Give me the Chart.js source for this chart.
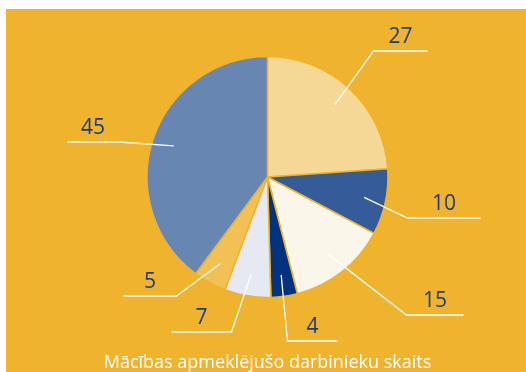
<!DOCTYPE html>
<html>
<head>
<meta charset="utf-8">
<script src="https://cdn.jsdelivr.net/npm/chart.js@4/dist/chart.umd.min.js"></script>
<style>
  html, body { margin: 0; padding: 0; background: #ffffff; }
  #box { position: relative; width: 526px; height: 372px; }
</style>
</head>
<body>
<div id="box"><canvas id="pie"></canvas></div>
<script>
// Dati
const categories = ['A', 'B', 'C', 'D', 'E', 'F', 'G'];
const values = [27, 10, 15, 4, 7, 5, 45];
const sliceColors = ['#F5D895', '#355C98', '#FBF6EA', '#03337F', '#E5E9F1', '#F2C156', '#6886B2'];
const titleText = 'Mācības apmeklējušo darbinieku skaits';

// izsaukuma līniju lūzuma punkti (attiecībā pret centru) un horizontālā posma garums
const leaders = [
    { ex: 106, ey: -126, len: 54 },
    { ex: 140, ey: 41, len: 73 },
    { ex: 139, ey: 138, len: 57 },
    { ex: 20, ey: 164, len: 50 },
    { ex: -36, ey: 155, len: -60 },
    { ex: -91, ey: 119, len: -53 },
    { ex: -149, ey: -35, len: -51 }
];

const ORANGE = '#EFB32E';

const backgroundPlugin = {
    id: 'orangeBox',
    beforeDraw(chart) {
        const ctx = chart.ctx;
        ctx.save();
        ctx.fillStyle = ORANGE;
        ctx.fillRect(6, 9, chart.width - 6, chart.height - 9);
        ctx.restore();
    }
};

const leaderPlugin = {
    id: 'leaders',
    afterDatasetsDraw(chart) {
        const ctx = chart.ctx;
        const arcs = chart.getDatasetMeta(0).data;
        ctx.save();
        arcs.forEach((arc, i) => {
            const mid = (arc.startAngle + arc.endAngle) / 2;
            const r = arc.outerRadius * 0.82;
            const x0 = arc.x + Math.cos(mid) * r;
            const y0 = arc.y + Math.sin(mid) * r;
            const l = leaders[i];
            const x1 = arc.x + l.ex;
            const y1 = arc.y + l.ey;
            const x2 = x1 + l.len;
            ctx.strokeStyle = '#ffffff';
            ctx.lineWidth = 1.3;
            ctx.beginPath();
            ctx.moveTo(x0, y0);
            ctx.lineTo(x1, y1);
            ctx.lineTo(x2, y1);
            ctx.stroke();

            ctx.fillStyle = '#1B3B7E';
            ctx.font = '21px "Open Sans"';
            ctx.textAlign = 'center';
            ctx.textBaseline = 'alphabetic';
            ctx.fillText(String(values[i]), (x1 + x2) / 2, y1 - 8);
        });
        ctx.restore();
    }
};

new Chart(document.getElementById('pie').getContext('2d'), {
    type: 'pie',
    data: {
        labels: categories,
        datasets: [{
            data: values,
            backgroundColor: sliceColors,
            borderColor: ORANGE,
            borderWidth: 1.5
        }]
    },
    options: {
        responsive: true,
        maintainAspectRatio: false,
        animation: false,
        layout: { padding: { top: 55.75, left: 9, right: 0, bottom: 0 } },
        plugins: {
            legend: { display: false },
            tooltip: { enabled: false },
            title: {
                display: true,
                position: 'bottom',
                text: titleText,
                color: '#ffffff',
                font: { family: '"Open Sans"', size: 18, weight: 'normal', lineHeight: 1.0 },
                padding: { top: 55.75, bottom: 0 }
            }
        }
    },
    plugins: [backgroundPlugin, leaderPlugin]
});
</script>
</body>
</html>
